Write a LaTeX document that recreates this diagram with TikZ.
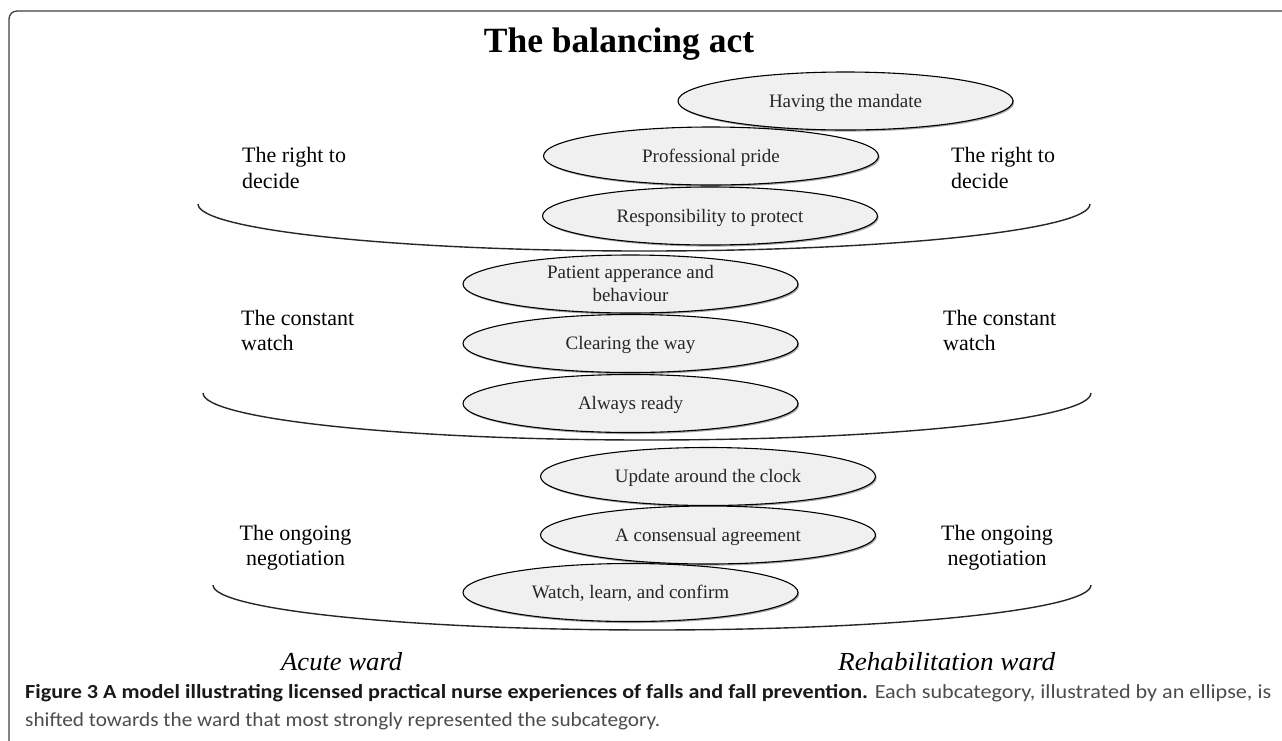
\documentclass[tikz,border=0pt]{standalone}
\usepackage{fontspec}
\setmainfont{Liberation Serif}
\newfontfamily\capfont{Carlito}
\usepackage{graphicx}
\usetikzlibrary{shapes.geometric,shadows}
\begin{document}
\begin{tikzpicture}[x=1pt,y=-1pt,
  subcat/.style={ellipse, draw=black, line width=1.1pt, fill=black!6,
    minimum width=335pt, minimum height=58pt, inner sep=0pt, text=black!85,
    font=\fontsize{19}{23}\selectfont, text height=12.6pt, text depth=0pt,
    drop shadow={shadow xshift=1.2pt, shadow yshift=-1.6pt, opacity=0.35, fill=black}},
  catlab/.style={inner sep=0pt, font=\fontsize{22}{26}\selectfont, text=black},
  bowl/.style={line width=1.4pt, draw=black!85},
  wardlab/.style={anchor=base west, inner sep=0pt},
  caplab/.style={anchor=base west, inner sep=0pt}
]
\useasboundingbox (0,0) rectangle (1282,740);
\fill[white] (0,0) rectangle (1282,740);
% frame
\draw[line width=1.3pt, black!75, rounded corners=8pt] (9,750) -- (9,11) -- (1295,11);

% title
\node[anchor=base, inner sep=0pt, font=\fontsize{35.5}{40}\selectfont\bfseries] (title) at (619,52) {The balancing act};

% subcategories
\node[subcat] (mandate) at (845.5,101) {Having the mandate};
\node[subcat] (pride) at (711,156) {Professional pride};
\node[subcat] (protect) at (710,216) {Responsibility to protect};
\node[subcat, align=center, text height=35.6pt, text depth=0pt] (patient) at (630.5,284) {Patient apperance and\\behaviour};
\node[subcat] (clearing) at (630.5,343.5) {Clearing the way};
\node[subcat] (ready) at (630.5,403.5) {Always ready};
\node[subcat] (update) at (708,476.5) {Update around the clock};
\node[subcat] (consensus) at (708,535) {A consensual agreement};
\node[subcat] (confirm) at (630.5,592.5) {Watch, learn, and confirm};

% bowls
\draw[bowl] (198,204) arc[start angle=180, end angle=360, x radius=446pt, y radius=47pt];
\draw[bowl] (203,393) arc[start angle=180, end angle=360, x radius=444pt, y radius=47pt];
\draw[bowl] (213,585) arc[start angle=180, end angle=360, x radius=439pt, y radius=45pt];

% category labels, left
\node[catlab, anchor=base west] (lr1) at (242,162) {The right to};
\node[catlab, anchor=base west] (lr2) at (242,188) {decide};
\node[catlab, anchor=base west] (lc1) at (241,325) {The constant};
\node[catlab, anchor=base west] (lc2) at (241,350) {watch};
\node[catlab, anchor=base] (lo1) at (295.5,540) {The ongoing};
\node[catlab, anchor=base] (lo2) at (295.5,565) {negotiation};
% category labels, right
\node[catlab, anchor=base west] (rr1) at (951,162) {The right to};
\node[catlab, anchor=base west] (rr2) at (951,188) {decide};
\node[catlab, anchor=base west] (rc1) at (943,325) {The constant};
\node[catlab, anchor=base west] (rc2) at (943,350) {watch};
\node[catlab, anchor=base] (ro1) at (997,540) {The ongoing};
\node[catlab, anchor=base] (ro2) at (997,565) {negotiation};

% wards
\node[wardlab] (acute) at (281,670) {\resizebox{121pt}{\height}{\fontsize{26}{30}\selectfont\itshape Acute ward}};
\node[wardlab] (rehab) at (838,670) {\resizebox{217pt}{\height}{\fontsize{26}{30}\selectfont\itshape Rehabilitation ward}};

% caption
\node[caplab] (cap1) at (25,698) {\resizebox{1246pt}{\height}{\capfont\fontsize{20}{24}\selectfont\color{black!90}\textbf{Figure 3 A model illustrating licensed practical nurse experiences of falls and fall prevention.} \color{black!70}Each subcategory, illustrated by an ellipse, is}};
\node[caplab] (cap2) at (25,726) {\resizebox{635pt}{\height}{\capfont\fontsize{20}{24}\selectfont\color{black!70}shifted towards the ward that most strongly represented the subcategory.}};
\end{tikzpicture}
\end{document}
